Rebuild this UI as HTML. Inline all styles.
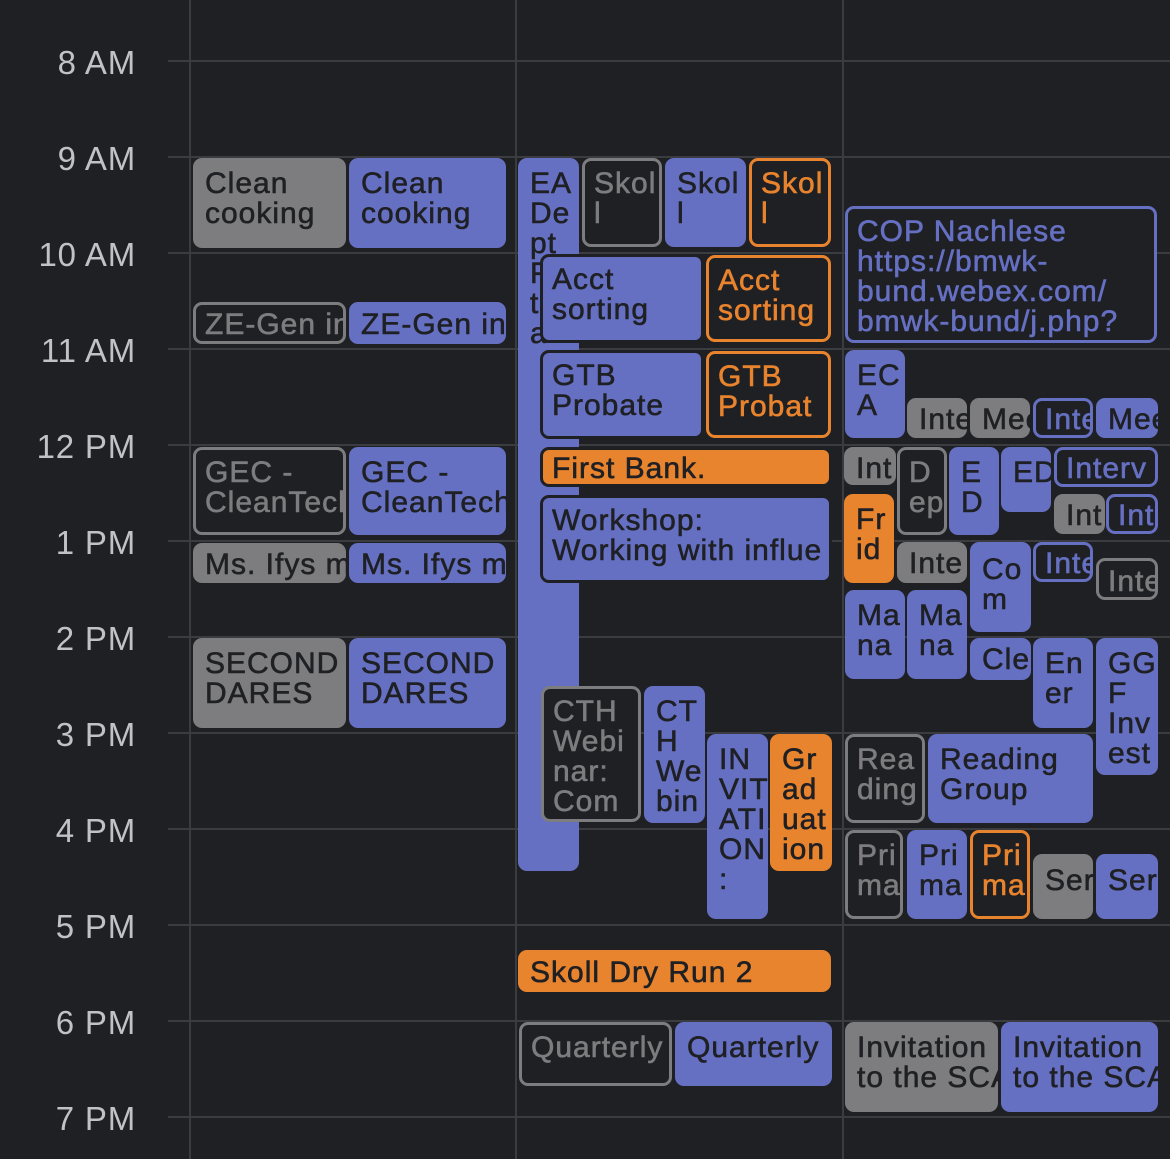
<!DOCTYPE html>
<html><head><meta charset="utf-8"><style>
body{margin:0;width:1170px;height:1159px;background:#1f2024;position:relative;overflow:hidden;font-family:"Liberation Sans",sans-serif}
.h{position:absolute;height:2px;left:168px;right:0;background:#3b3c40}
.v{position:absolute;width:2px;top:0;bottom:0;background:#3b3c40}
.t{position:absolute;right:1034px;font-size:33px;color:#c2c2c6;line-height:40px;letter-spacing:0.8px;white-space:nowrap}
.e{position:absolute;box-sizing:border-box;border-radius:9px;overflow:hidden;font-size:30px;line-height:30px;padding:9px 0 0 12px;white-space:nowrap;letter-spacing:1px;color:#1f2024;-webkit-text-stroke:0.6px currentColor}
.e::before{content:"";display:block;height:2px}
.b{background:#6670c2}
.g{background:#7d7d7f}
.o{background:#e8832e}
.ob{border:3px solid #6670c2;color:#6670c2;background:#1f2024;padding:6px 0 0 9px}
.og{border:3px solid #7d7d7f;color:#7d7d7f;background:#1f2024;padding:6px 0 0 9px}
.oo{border:3px solid #e8832e;color:#e8832e;background:#1f2024;padding:6px 0 0 9px}
.d{border:3px solid #1f2024;padding:6px 0 0 9px}
</style></head><body>
<div class="v" style="left:189px"></div><div class="v" style="left:515px"></div><div class="v" style="left:842px"></div>
<div class="h" style="top:60px"></div><div class="h" style="top:156px"></div><div class="h" style="top:252px"></div><div class="h" style="top:348px"></div><div class="h" style="top:444px"></div><div class="h" style="top:540px"></div><div class="h" style="top:636px"></div><div class="h" style="top:732px"></div><div class="h" style="top:828px"></div><div class="h" style="top:924px"></div><div class="h" style="top:1020px"></div><div class="h" style="top:1116px"></div>
<div class="t" style="top:43px">8 AM</div><div class="t" style="top:139px">9 AM</div><div class="t" style="top:235px">10 AM</div><div class="t" style="top:331px">11 AM</div><div class="t" style="top:427px">12 PM</div><div class="t" style="top:523px">1 PM</div><div class="t" style="top:619px">2 PM</div><div class="t" style="top:715px">3 PM</div><div class="t" style="top:811px">4 PM</div><div class="t" style="top:907px">5 PM</div><div class="t" style="top:1003px">6 PM</div><div class="t" style="top:1099px">7 PM</div>

<div class="e g" style="left:193px;top:158px;width:153px;height:90px">Clean<br>cooking</div>
<div class="e b" style="left:349px;top:158px;width:157px;height:90px">Clean<br>cooking</div>
<div class="e og" style="left:193px;top:302px;width:153px;height:42px;padding-top:3px">ZE-Gen in</div>
<div class="e b" style="left:349px;top:302px;width:157px;height:42px;padding-top:6px">ZE-Gen in</div>
<div class="e og" style="left:193px;top:447px;width:153px;height:88px">GEC -<br>CleanTech</div>
<div class="e b" style="left:349px;top:447px;width:157px;height:88px">GEC -<br>CleanTech</div>
<div class="e g" style="left:193px;top:543px;width:153px;height:40px;padding-top:5px">Ms. Ifys m</div>
<div class="e b" style="left:349px;top:543px;width:157px;height:40px;padding-top:5px">Ms. Ifys m</div>
<div class="e g" style="left:193px;top:638px;width:153px;height:90px">SECOND<br>DARES</div>
<div class="e b" style="left:349px;top:638px;width:157px;height:90px">SECOND<br>DARES</div>

<div class="e b" style="left:518px;top:158px;width:61px;height:713px">EA<br>De<br>pt<br>F<br>t<br>a</div>
<div class="e og" style="left:582px;top:158px;width:80px;height:89px">Skol<br>l</div>
<div class="e b" style="left:665px;top:158px;width:81px;height:89px">Skol<br>l</div>
<div class="e oo" style="left:749px;top:158px;width:82px;height:89px">Skol<br>l</div>
<div class="e b d" style="left:540px;top:254px;width:164px;height:89px">Acct<br>sorting</div>
<div class="e oo" style="left:706px;top:255px;width:125px;height:87px">Acct<br>sorting</div>
<div class="e b d" style="left:540px;top:350px;width:164px;height:89px">GTB<br>Probate</div>
<div class="e oo" style="left:706px;top:351px;width:125px;height:87px">GTB<br>Probat</div>
<div class="e o d" style="left:540px;top:447px;width:292px;height:40px;padding-top:2px">First Bank.</div>
<div class="e b d" style="left:540px;top:495px;width:292px;height:88px">Workshop:<br>Working with influe</div>
<div class="e og" style="left:541px;top:686px;width:100px;height:136px">CTH<br>Webi<br>nar:<br>Com</div>
<div class="e b" style="left:644px;top:686px;width:61px;height:137px">CT<br>H<br>We<br>bin</div>
<div class="e b" style="left:707px;top:734px;width:61px;height:185px">IN<br>VIT<br>ATI<br>ON<br>:</div>
<div class="e o" style="left:770px;top:734px;width:62px;height:137px">Gr<br>ad<br>uat<br>ion</div>
<div class="e o" style="left:518px;top:950px;width:313px;height:42px;padding-top:6px">Skoll Dry Run 2</div>
<div class="e og" style="left:519px;top:1022px;width:153px;height:64px;padding-top:6px">Quarterly</div>
<div class="e b" style="left:675px;top:1022px;width:157px;height:64px">Quarterly</div>

<div class="e ob" style="left:845px;top:206px;width:312px;height:137px">COP Nachlese<br>https://bmwk-<br>bund.webex.com/<br>bmwk-bund/j.php?</div>
<div class="e b" style="left:845px;top:350px;width:60px;height:88px">EC<br>A</div>
<div class="e g" style="left:907px;top:398px;width:60px;height:40px;padding-top:5px">Inte</div>
<div class="e g" style="left:970px;top:398px;width:60px;height:40px;padding-top:5px">Mee</div>
<div class="e ob" style="left:1033px;top:398px;width:60px;height:40px;padding-top:2px">Inte</div>
<div class="e b" style="left:1096px;top:398px;width:62px;height:40px;padding-top:5px">Mee</div>
<div class="e g" style="left:844px;top:447px;width:52px;height:38px;padding-top:5px">Int</div>
<div class="e og" style="left:897px;top:447px;width:50px;height:88px">D<br>ep</div>
<div class="e b" style="left:949px;top:447px;width:50px;height:88px">E<br>D</div>
<div class="e b" style="left:1001px;top:447px;width:50px;height:65px">ED</div>
<div class="e ob" style="left:1054px;top:447px;width:104px;height:40px;padding-top:2px">Interv</div>
<div class="e g" style="left:1054px;top:494px;width:51px;height:40px;padding-top:5px">Int</div>
<div class="e ob" style="left:1106px;top:494px;width:52px;height:40px;padding-top:2px">Int</div>
<div class="e o" style="left:844px;top:494px;width:50px;height:89px">Fr<br>id</div>
<div class="e g" style="left:897px;top:542px;width:70px;height:41px;padding-top:5px">Inte</div>
<div class="e b" style="left:970px;top:542px;width:61px;height:90px;padding-top:11px">Co<br>m</div>
<div class="e ob" style="left:1033px;top:542px;width:60px;height:40px;padding-top:2px">Inte</div>
<div class="e og" style="left:1096px;top:558px;width:62px;height:42px;padding-top:4px">Inte</div>
<div class="e b" style="left:845px;top:590px;width:60px;height:89px">Ma<br>na</div>
<div class="e b" style="left:907px;top:590px;width:60px;height:89px">Ma<br>na</div>
<div class="e b" style="left:970px;top:638px;width:61px;height:42px;padding-top:5px">Cle</div>
<div class="e b" style="left:1033px;top:638px;width:60px;height:90px">En<br>er</div>
<div class="e b" style="left:1096px;top:638px;width:62px;height:137px">GG<br>F<br>Inv<br>est</div>
<div class="e og" style="left:845px;top:734px;width:80px;height:89px">Rea<br>ding</div>
<div class="e b" style="left:928px;top:734px;width:165px;height:89px">Reading<br>Group</div>
<div class="e og" style="left:845px;top:830px;width:58px;height:89px">Pri<br>ma</div>
<div class="e b" style="left:907px;top:830px;width:60px;height:89px">Pri<br>ma</div>
<div class="e oo" style="left:970px;top:830px;width:60px;height:89px">Pri<br>ma</div>
<div class="e g" style="left:1033px;top:854px;width:60px;height:65px;padding-top:10px">Ser</div>
<div class="e b" style="left:1096px;top:854px;width:62px;height:65px;padding-top:10px">Ser</div>
<div class="e g" style="left:845px;top:1022px;width:153px;height:90px">Invitation<br>to the SCA</div>
<div class="e b" style="left:1001px;top:1022px;width:157px;height:90px">Invitation<br>to the SCA</div>
</body></html>
